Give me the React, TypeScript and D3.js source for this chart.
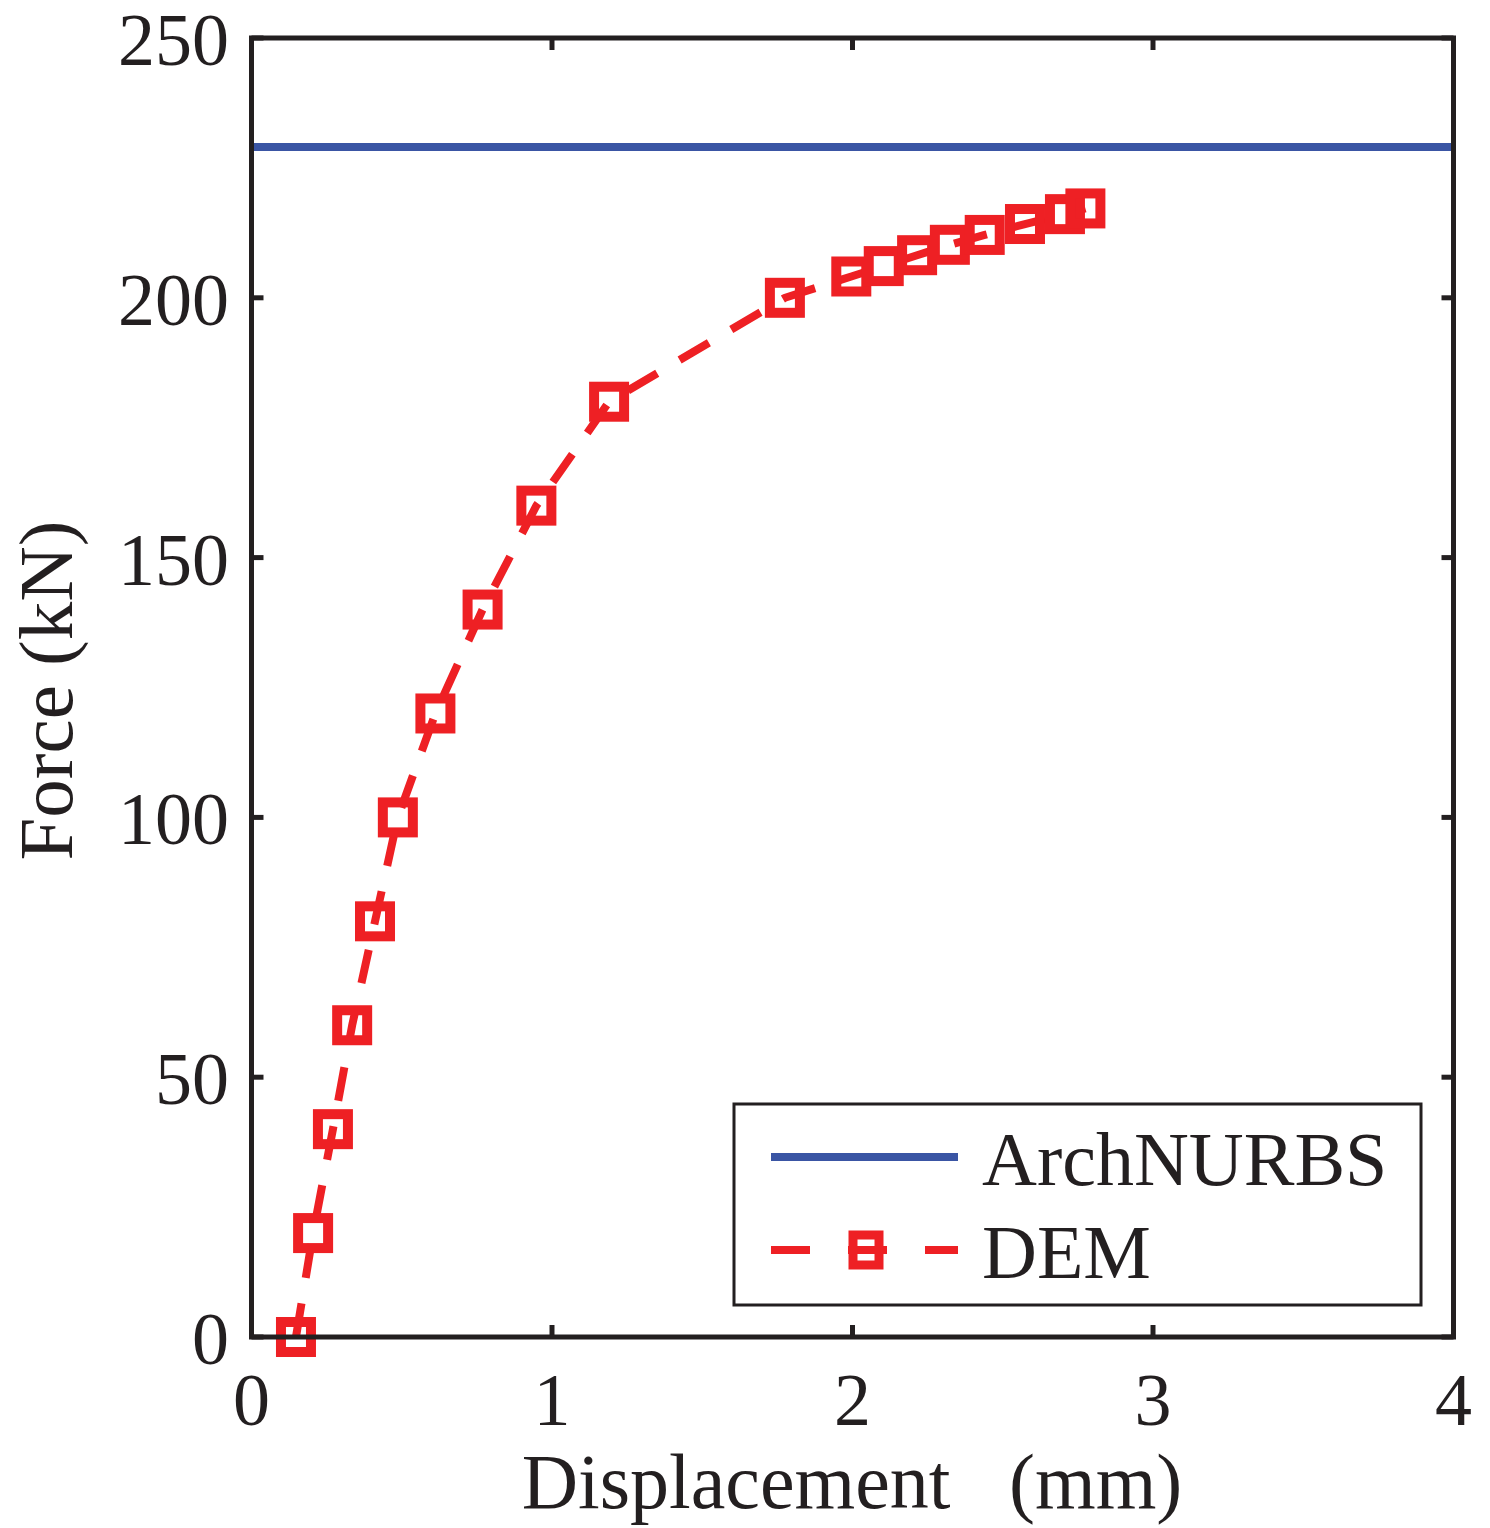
import React from "react";
import * as d3 from "d3";

const demX = [0.148, 0.205, 0.271, 0.335, 0.411, 0.487, 0.612, 0.769, 0.948, 1.19, 1.775, 1.996, 2.104, 2.215, 2.324, 2.44, 2.574, 2.707, 2.775];
const demY = [0, 20, 40, 60, 80, 100, 120, 140, 160, 180, 200, 204.1, 206.1, 208.2, 210.2, 212.1, 214.2, 216.1, 217.2];
const archValue = 229;
const xTicks = [0, 1, 2, 3, 4];
const yTicks = [0, 50, 100, 150, 200, 250];
const legendLabels = ["ArchNURBS", "DEM"];

const W = 1490, H = 1528;
const ML = 251.5, MR = 1453.5, MT = 38, MB = 1337;
const BLUE = "#3A55A4";
const RED = "#EE2024";
const INK = "#231F20";
const FONT = "'Liberation Serif', 'Times New Roman', serif";

export default function App() {
  const x = d3.scaleLinear().domain([0, 4]).range([ML, MR]);
  const y = d3.scaleLinear().domain([0, 250]).range([MB, MT]);
  const pts: [number, number][] = demX.map((v, i) => [v, demY[i]]);
  const line = d3.line<[number, number]>().x(d => x(d[0])).y(d => y(d[1]));
  const ms = 40;
  const tickLen = 12;
  return (
    <svg width={W} height={H} style={{ display: "block", position: "absolute", left: 0, top: 0 }}>
      <rect width={W} height={H} fill="white" />
      {/* blue line */}
      <line x1={x(0)} x2={x(4)} y1={y(archValue)} y2={y(archValue)} stroke={BLUE} strokeWidth={8} />
      {/* DEM dashed line */}
      <path d={line(pts) || ""} fill="none" stroke={RED} strokeWidth={8} strokeDasharray="34,26" />
      {pts.map((p, i) => (
        <rect key={i} x={x(p[0]) - ms / 2 + 5} y={y(p[1]) - ms / 2 + 5} width={ms - 10} height={ms - 10}
          fill="none" stroke={RED} strokeWidth={10} />
      ))}
      {/* ticks */}
      {xTicks.map(t => (
        <g key={"xt" + t}>
          <line x1={x(t)} x2={x(t)} y1={MB} y2={MB - tickLen} stroke={INK} strokeWidth={5} />
          <line x1={x(t)} x2={x(t)} y1={MT} y2={MT + tickLen} stroke={INK} strokeWidth={5} />
          <text x={x(t)} y={1425} textAnchor="middle" fontFamily={FONT} fontSize={74} fill={INK}>{t}</text>
        </g>
      ))}
      {yTicks.map(t => (
        <g key={"yt" + t}>
          <line x1={ML} x2={ML + tickLen} y1={y(t)} y2={y(t)} stroke={INK} strokeWidth={5} />
          <line x1={MR} x2={MR - tickLen} y1={y(t)} y2={y(t)} stroke={INK} strokeWidth={5} />
          <text x={229} y={y(t) + 27} textAnchor="end" fontFamily={FONT} fontSize={74} fill={INK}>{t}</text>
        </g>
      ))}
      {/* frame */}
      <rect x={ML} y={MT} width={MR - ML} height={MB - MT} fill="none" stroke={INK} strokeWidth={5} />
      {/* axis labels */}
      <text x={852} y={1508} textAnchor="middle" fontFamily={FONT} fontSize={78} fill={INK} style={{ whiteSpace: "pre" }}>
        {"Displacement   (mm)"}
      </text>
      <text transform={`translate(72,${(MT + MB) / 2 + 3}) rotate(-90)`} textAnchor="middle" fontFamily={FONT} fontSize={77} fill={INK}>
        Force (kN)
      </text>
      {/* legend */}
      <rect x={734} y={1104} width={687} height={201} fill="white" stroke={INK} strokeWidth={3} />
      <line x1={771} x2={958} y1={1157} y2={1157} stroke={BLUE} strokeWidth={8} />
      <line x1={771} x2={958} y1={1250} y2={1250} stroke={RED} strokeWidth={8} strokeDasharray="39,38" />
      <rect x={853} y={1235} width={26} height={30} fill="none" stroke={RED} strokeWidth={9} />
      <text x={982} y={1185} fontFamily={FONT} fontSize={76} fill={INK}>{legendLabels[0]}</text>
      <text x={982} y={1278} fontFamily={FONT} fontSize={76} fill={INK}>{legendLabels[1]}</text>
    </svg>
  );
}
